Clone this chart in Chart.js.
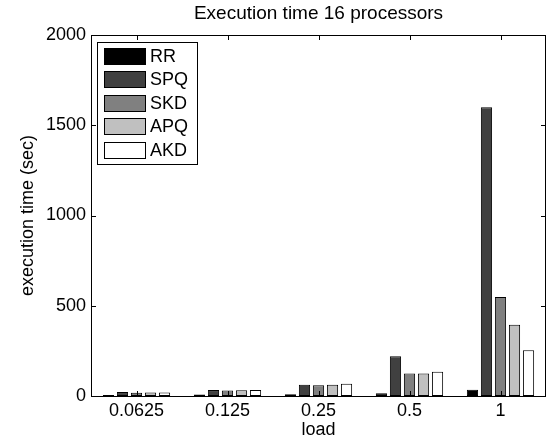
<!DOCTYPE html>
<html>
<head>
<meta charset="utf-8">
<script src="https://cdn.jsdelivr.net/npm/chart.js@4/dist/chart.umd.min.js"></script>
<style>
html,body{margin:0;padding:0;background:#fff;}
#wrap{width:552px;height:443px;}
</style>
</head>
<body>
<div id="wrap"><canvas id="c" width="552" height="443"></canvas></div>
<script>
const categories = ["0.0625", "0.125", "0.25", "0.5", "1"];
const seriesNames = ["RR", "SPQ", "SKD", "APQ", "AKD"];
const RR  = [5, 8, 10, 15, 35];
const SPQ = [22, 33, 63, 220, 1600];
const SKD = [18, 31, 60, 125, 548];
const APQ = [20, 32, 63, 125, 395];
const AKD = [19, 33, 68, 135, 253];
const yTicks = [0, 500, 1000, 1500, 2000];
const titleText = "Execution time 16 processors";
const xLabel = "load";
const yLabel = "execution time (sec)";

const colors = ["#000000", "#404040", "#808080", "#c0c0c0", "#ffffff"];
const values = [RR, SPQ, SKD, APQ, AKD];
const FONT = "Liberation Sans, Arial, Helvetica, sans-serif";

const frame = {
  id: "frame",
  afterDraw(chart) {
    const ctx = chart.ctx, a = chart.chartArea;
    const xs = chart.scales.x, ys = chart.scales.y;
    ctx.save();
    ctx.strokeStyle = "#000";
    ctx.lineWidth = 1;
    ctx.strokeRect(Math.round(a.left) + 0.5, Math.round(a.top) + 0.5,
                   Math.round(a.right - a.left) - 1, Math.round(a.bottom - a.top));
    const tl = 5;
    ctx.beginPath();
    yTicks.forEach(v => {
      const y = Math.round(ys.getPixelForValue(v)) + 0.5;
      ctx.moveTo(a.left, y); ctx.lineTo(a.left + tl, y);
      ctx.moveTo(a.right, y); ctx.lineTo(a.right - tl, y);
    });
    categories.forEach((c, i) => {
      const x = Math.round(xs.getPixelForValue(i)) + 0.5;
      ctx.moveTo(x, a.bottom); ctx.lineTo(x, a.bottom - tl);
      ctx.moveTo(x, a.top); ctx.lineTo(x, a.top + tl);
    });
    ctx.stroke();
    // title
    ctx.fillStyle = "#000";
    ctx.font = "19px " + FONT;
    ctx.textAlign = "center";
    ctx.textBaseline = "middle";
    ctx.fillText(titleText, (a.left + a.right) / 2, 14);
    // legend
    const lx = 97, ly = 42, lw = 100, lh = 122;
    ctx.fillStyle = "#fff";
    ctx.fillRect(lx + 0.5, ly + 0.5, lw, lh);
    ctx.strokeRect(lx + 0.5, ly + 0.5, lw, lh);
    ctx.font = "18px " + FONT;
    ctx.textAlign = "left";
    chart.data.datasets.forEach((ds, i) => {
      const ry = ly + 6 + i * 23.4;
      ctx.fillStyle = ds.backgroundColor;
      ctx.fillRect(104.5, Math.round(ry) + 0.5, 41, 16);
      ctx.strokeRect(104.5, Math.round(ry) + 0.5, 41, 16);
      ctx.fillStyle = "#000";
      ctx.fillText(ds.label, 150, Math.round(ry) + 9);
    });
    ctx.restore();
  }
};

new Chart(document.getElementById("c"), {
  type: "bar",
  data: {
    labels: categories,
    datasets: seriesNames.map((n, i) => ({
      label: n,
      data: values[i],
      backgroundColor: colors[i],
      borderColor: "#000",
      borderWidth: 1,
      borderSkipped: false,
      categoryPercentage: 0.77,
      barPercentage: 0.8
    }))
  },
  options: {
    responsive: false,
    animation: false,
    devicePixelRatio: 1,
    layout: { padding: { top: 35, right: 6, left: 0, bottom: 0 } },
    plugins: { legend: { display: false }, title: { display: false }, tooltip: { enabled: false } },
    scales: {
      x: {
        grid: { display: false, drawTicks: false },
        border: { display: false },
        ticks: { color: "#000", font: { size: 18, family: FONT }, padding: 4, maxRotation: 0 },
        title: { display: true, text: xLabel, color: "#000", font: { size: 18, family: FONT }, padding: { top: 0, bottom: 2 } },
        afterFit(s) { s.height = 47; }
      },
      y: {
        min: 0, max: 2000,
        afterBuildTicks(s) { s.ticks = yTicks.map(v => ({ value: v })); },
        grid: { display: false, drawTicks: false },
        border: { display: false },
        ticks: { color: "#000", font: { size: 18, family: FONT }, padding: 5, callback: v => String(v) },
        title: { display: true, text: yLabel, color: "#000", font: { size: 18, family: FONT }, padding: { top: 17, bottom: 0 } },
        afterFit(s) { s.width = 91; }
      }
    }
  },
  plugins: [frame]
});
</script>
</body>
</html>
